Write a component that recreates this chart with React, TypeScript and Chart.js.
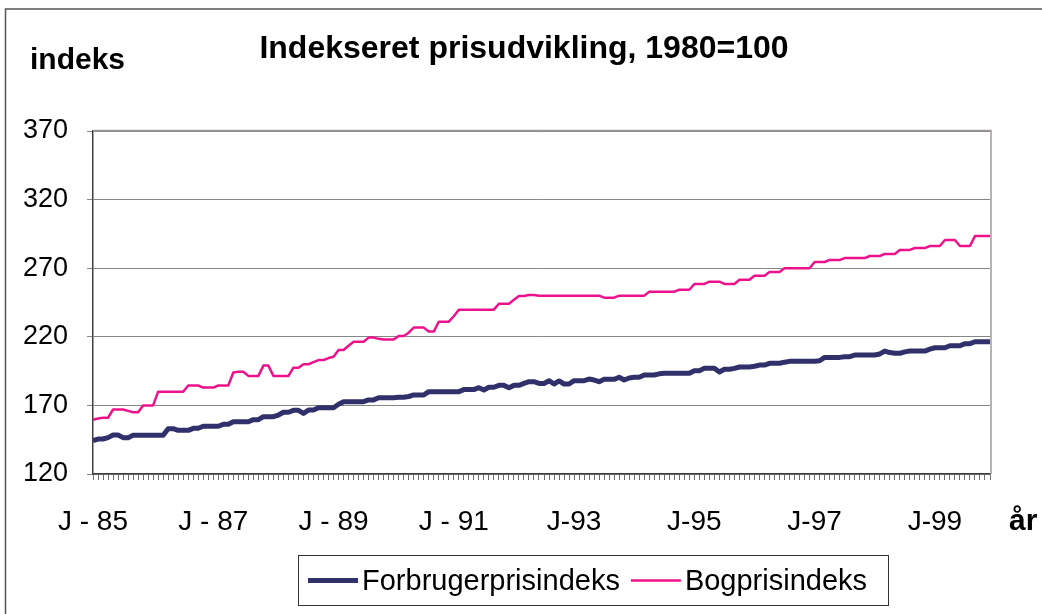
import React, { useEffect, useRef } from 'react';
import { Chart, registerables } from 'chart.js';

Chart.register(...registerables);

const FONT = '"Liberation Sans", Arial, Helvetica, sans-serif';

const chartTitle = 'Indekseret prisudvikling, 1980=100';
const yAxisTitle = 'indeks';
const xAxisTitle = 'år';

const years = [85, 86, 87, 88, 89, 90, 91, 92, 93, 94, 95, 96, 97, 98, 99];
const months = ['J', 'F', 'M', 'A', 'M', 'J', 'J', 'A', 'S', 'O', 'N', 'D'];
const categories = years.flatMap((y) => months.map((m) => `${m}-${y}`));

const xTickLabels = ['J - 85', 'J - 87', 'J - 89', 'J - 91', 'J-93', 'J-95', 'J-97', 'J-99'];
const xTickEvery = 24;

const yMin = 120;
const yMax = 370;
const yStep = 50;

const seriesNames = ['Forbrugerprisindeks', 'Bogprisindeks'];
const seriesColors = ['#30306a', '#ec128c'];
const seriesWidths = [5, 2.5];

const forbrugerprisindeks = [
  144.3, 145.5, 145.5, 146.5, 148.4, 148.4, 146.5, 146.5, 148.2, 148.2, 148.2, 148.2,
  148.2, 148.2, 148.2, 153, 153, 151.8, 151.8, 151.8, 153.3, 153.3, 154.8, 154.8,
  154.8, 154.8, 156.2, 156.2, 158.1, 158.1, 158.1, 158.1, 159.6, 159.6, 161.8, 161.8,
  161.8, 163, 165, 165, 166.4, 166.4, 164.2, 166.6, 166.6, 168.3, 168.3, 168.3,
  168.3, 170.8, 172.7, 172.7, 172.7, 172.7, 172.7, 174, 174, 175.6, 175.6, 175.6,
  175.6, 175.9, 175.9, 176.5, 177.6, 177.6, 177.6, 180, 180, 180, 180, 180,
  180, 180, 181.5, 181.5, 181.5, 182.9, 181.2, 183.2, 183.2, 184.6, 184.6, 182.9,
  184.6, 184.6, 186, 187.3, 187.3, 186, 186, 188, 185.6, 187.8, 185.6, 185.6,
  188, 188, 188, 189.2, 188.5, 187.3, 189, 189, 189, 190.5, 188.5, 190,
  190.5, 190.5, 192.2, 192.2, 192.2, 193, 193.4, 193.4, 193.4, 193.4, 193.4, 193.4,
  195.3, 195.3, 197, 197, 197, 194.3, 196.3, 196.3, 197, 198, 198, 198,
  198.5, 199.4, 199.4, 200.7, 200.7, 200.7, 201.5, 202.1, 202.1, 202.1, 202.1, 202.1,
  202.1, 202.5, 205, 205, 205, 205, 205.5, 205.5, 206.7, 206.7, 206.7, 206.7,
  206.7, 207.5, 209.6, 208.5, 208, 208, 209, 209.6, 209.6, 209.6, 209.6, 211,
  212, 212, 212, 213.5, 213.5, 213.5, 215, 215, 216.4, 216.4, 216.4, 216.4,
];

const bogprisindeks = [
  159.5, 160.5, 161, 161, 167, 167, 167, 166, 165, 165, 170, 170,
  170, 180, 180, 180, 180, 180, 180, 184.5, 184.5, 184.5, 183, 183,
  183, 184.5, 184.5, 184.5, 194, 194.5, 194.5, 191.5, 191.5, 191.5, 199, 199,
  191.5, 191.5, 191.5, 191.5, 197.5, 197.5, 200, 200, 201.5, 203, 203, 204.5,
  205.5, 210.4, 210.4, 213.5, 216.4, 216.4, 216.4, 219.4, 219.4, 218.5, 218, 218,
  218, 220.6, 220.6, 223, 226.7, 226.7, 226.7, 223.8, 223.8, 231, 231, 231,
  235, 239.8, 239.8, 239.8, 239.8, 239.8, 239.8, 239.8, 239.8, 244.1, 244.1, 244.1,
  247, 249.7, 249.7, 250.5, 250.5, 250, 250, 250, 250, 250, 250, 250,
  250, 250, 250, 250, 250, 250, 248.5, 248.5, 248.5, 250, 250, 250,
  250, 250, 250, 252.9, 252.9, 252.9, 252.9, 252.9, 252.9, 254.3, 254.3, 254.3,
  258.5, 258.5, 258.5, 260.2, 260.2, 260.2, 258.5, 258.5, 258.5, 261.6, 261.6, 261.6,
  264.5, 264.5, 264.5, 267.2, 267.2, 267.2, 269.9, 269.9, 269.9, 269.9, 269.9, 269.9,
  274.5, 274.5, 274.5, 276, 276, 276, 277.4, 277.4, 277.4, 277.4, 277.4, 278.9,
  278.9, 278.9, 280.4, 280.4, 280.4, 283.3, 283.3, 283.3, 284.7, 284.7, 284.7, 286.2,
  286.2, 286.2, 290.6, 290.6, 290.6, 286.2, 286.2, 286.2, 293.5, 293.5, 293.5, 293.5,
];

const seriesData = [forbrugerprisindeks, bogprisindeks];

const decorPlugin = {
  id: 'decor',
  beforeDatasetsDraw(chart: any) {
    const { ctx, chartArea: a } = chart;
    ctx.save();
    ctx.strokeStyle = '#a09a98';
    ctx.lineWidth = 1.5;
    ctx.beginPath();
    ctx.moveTo(a.left, a.top - 0.5);
    ctx.lineTo(a.right + 1, a.top - 0.5);
    ctx.lineTo(a.right + 1, a.bottom);
    ctx.stroke();
    ctx.restore();
  },
  afterDraw(chart: any) {
    const { ctx } = chart;
    ctx.save();
    // outer frame (top & left)
    ctx.strokeStyle = '#555555';
    ctx.lineWidth = 1.5;
    ctx.beginPath();
    ctx.moveTo(5.5, 614);
    ctx.lineTo(5.5, 9);
    ctx.lineTo(1042, 9);
    ctx.stroke();

    ctx.fillStyle = '#000000';
    ctx.textBaseline = 'middle';
    // title
    ctx.font = `bold 32px ${FONT}`;
    ctx.textAlign = 'center';
    ctx.fillText(chartTitle, 524, 49);
    // y axis title
    ctx.font = `bold 30px ${FONT}`;
    ctx.textAlign = 'left';
    ctx.fillText(yAxisTitle, 30, 61);
    // x axis title
    ctx.fillText(xAxisTitle, 1009, 522);

    // legend
    const box = { x: 298.5, y: 555.5, w: 590, h: 50 };
    ctx.strokeStyle = '#333333';
    ctx.lineWidth = 1;
    ctx.strokeRect(box.x, box.y, box.w, box.h);
    ctx.font = `29px ${FONT}`;
    const cy = box.y + box.h / 2;
    let x = 308;
    chart.data.datasets.forEach((ds: any) => {
      ctx.strokeStyle = ds.borderColor;
      ctx.lineWidth = ds.borderWidth;
      ctx.beginPath();
      ctx.moveTo(x, cy);
      ctx.lineTo(x + 50, cy);
      ctx.stroke();
      ctx.fillStyle = '#000000';
      ctx.fillText(ds.label, x + 54, cy + 1);
      x += 54 + ctx.measureText(ds.label).width + 11;
    });
    ctx.restore();
  },
};

export default function App() {
  const canvasRef = useRef<HTMLCanvasElement | null>(null);

  useEffect(() => {
    document.body.style.margin = '0';
    const canvas = canvasRef.current;
    if (!canvas) return;
    const chart = new Chart(canvas, {
      type: 'line',
      data: {
        labels: categories,
        datasets: seriesNames.map((name, i) => ({
          label: name,
          data: seriesData[i],
          borderColor: seriesColors[i],
          backgroundColor: seriesColors[i],
          borderWidth: seriesWidths[i],
          pointRadius: 0,
          tension: 0,
          borderJoinStyle: 'round' as const,
          order: i === 0 ? 0 : 1,
        })),
      },
      options: {
        animation: false,
        responsive: false,
        events: [],
        layout: { padding: { top: 131, right: 52, bottom: 0, left: 0 } },
        plugins: {
          legend: { display: false },
          title: { display: false },
          tooltip: { enabled: false },
        },
        scales: {
          x: {
            type: 'category',
            offset: false,
            afterFit: (scale: any) => {
              scale.height = 140;
            },
            border: { display: true, color: '#404040', width: 1.5 },
            grid: {
              display: true,
              drawOnChartArea: false,
              drawTicks: true,
              tickLength: 6,
              color: '#707070',
              lineWidth: 1,
            },
            ticks: {
              autoSkip: false,
              maxRotation: 0,
              minRotation: 0,
              padding: 25,
              color: '#000000',
              font: { family: FONT, size: 28 },
              callback: (_v: any, idx: number) =>
                idx % xTickEvery === 0 ? xTickLabels[idx / xTickEvery] ?? '' : '',
            },
          },
          y: {
            min: yMin,
            max: yMax,
            afterFit: (scale: any) => {
              scale.width = 93;
            },
            border: { display: true, color: '#404040', width: 1.5 },
            grid: {
              color: '#868686',
              lineWidth: 1,
              tickLength: 6,
              drawTicks: true,
            },
            ticks: {
              stepSize: yStep,
              padding: 19,
              color: '#000000',
              font: { family: FONT, size: 27 },
            },
          },
        },
      },
      plugins: [decorPlugin],
    });
    return () => chart.destroy();
  }, []);

  return (
    <div style={{ width: 1042, height: 614, position: 'relative', background: '#ffffff' }}>
      <canvas ref={canvasRef} width={1042} height={614} style={{ display: 'block' }} />
    </div>
  );
}
